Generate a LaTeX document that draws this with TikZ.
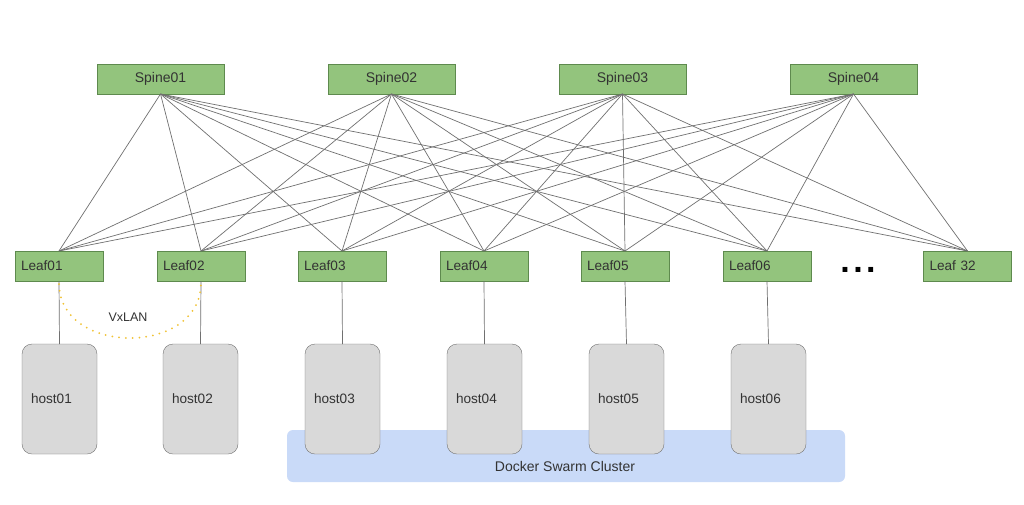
\documentclass[tikz,border=0pt]{standalone}
\usepackage{fontspec}
\setmainfont{Liberation Sans}
\definecolor{spinefill}{HTML}{93C47D}
\definecolor{boxborder}{HTML}{5E8A4E}
\definecolor{hostfill}{HTML}{D9D9D9}
\definecolor{hostborder}{HTML}{707070}
\definecolor{clusterfill}{HTML}{C9DAF8}
\definecolor{linkgray}{HTML}{707070}
\definecolor{txt}{HTML}{333333}
\definecolor{vxlan}{HTML}{F1C232}
\begin{document}
\begin{tikzpicture}[x=1pt,y=1pt,
  spinebox/.style={draw=boxborder, fill=spinefill, minimum width=127pt, minimum height=30pt,
    inner sep=0pt, outer sep=0pt, font=\fontsize{14}{16}\selectfont, text=txt},
  leafbox/.style={draw=boxborder, fill=spinefill, minimum height=30pt, text width=76pt,
    inner xsep=6pt, inner ysep=0pt, outer sep=0pt, align=left, font=\fontsize{13.6}{16}\selectfont, text=txt},
  hostbox/.style={draw=hostborder, fill=hostfill, rounded corners=10pt, minimum height=110pt,
    text width=57pt, inner xsep=9pt, inner ysep=0pt, outer sep=0pt, align=left,
    font=\fontsize{13.6}{16}\selectfont, text=txt},
  clusterbox/.style={fill=clusterfill, rounded corners=6pt, minimum width=558pt, minimum height=52pt, inner sep=0pt},
  link/.style={draw=linkgray, line width=0.7pt},
  plain/.style={text=txt, inner sep=0pt}]
\useasboundingbox (0,0) rectangle (1024,-504);
\fill[white] (0,0) rectangle (1024,-504);

% cluster background
\node[clusterbox] (swarm) at (566,-456) {};
\node[plain, font=\fontsize{14}{16}\selectfont] (swarmlabel) at (565,-466) {Docker Swarm Cluster};

% spines
\node[spinebox] (s1) at (160.5,-79) {Spine01};
\node[spinebox] (s2) at (391.5,-79) {Spine02};
\node[spinebox] (s3) at (622.5,-79) {Spine03};
\node[spinebox] (s4) at (853.5,-79) {Spine04};

% leaves
\node[leafbox] (l1) at (59,-266) {Leaf01};
\node[leafbox] (l2) at (201,-266) {Leaf02};
\node[leafbox] (l3) at (342,-266) {Leaf03};
\node[leafbox] (l4) at (484,-266) {Leaf04};
\node[leafbox] (l5) at (625,-266) {Leaf05};
\node[leafbox] (l6) at (767,-266) {Leaf06};
\node[leafbox] (l32) at (967.5,-266) {Leaf 32};

% ellipsis
\node[plain, text=black, font=\fontsize{34}{34}\selectfont\bfseries] (dots) at (858,-270)
  {.\hspace{3.5pt}.\hspace{3.5pt}.};

% hosts
\node[hostbox] (h1) at (59.5,-399) {host01};
\node[hostbox] (h2) at (200.5,-399) {host02};
\node[hostbox] (h3) at (342.5,-399) {host03};
\node[hostbox] (h4) at (484.5,-399) {host04};
\node[hostbox] (h5) at (626.5,-399) {host05};
\node[hostbox] (h6) at (768.5,-399) {host06};

% spine-leaf mesh
\foreach \s in {s1,s2,s3,s4}{
  \foreach \l in {l1,l2,l3,l4,l5,l6,l32}{
    \draw[link] (\s.south) -- (\l.north);
  }
}

% leaf-host links
\foreach \i in {1,...,6}{
  \draw[link] (l\i.south) -- (h\i.north);
}

% VxLAN
\draw[vxlan, line width=2pt, line cap=round, dash pattern=on 0pt off 6.8pt]
  ([yshift=-3pt]l1.south) .. controls (60,-356) and (200,-356) .. ([yshift=-3pt]l2.south);
\node[plain, font=\fontsize{12.5}{14}\selectfont] (vx) at (128,-317) {VxLAN};
\end{tikzpicture}
\end{document}
